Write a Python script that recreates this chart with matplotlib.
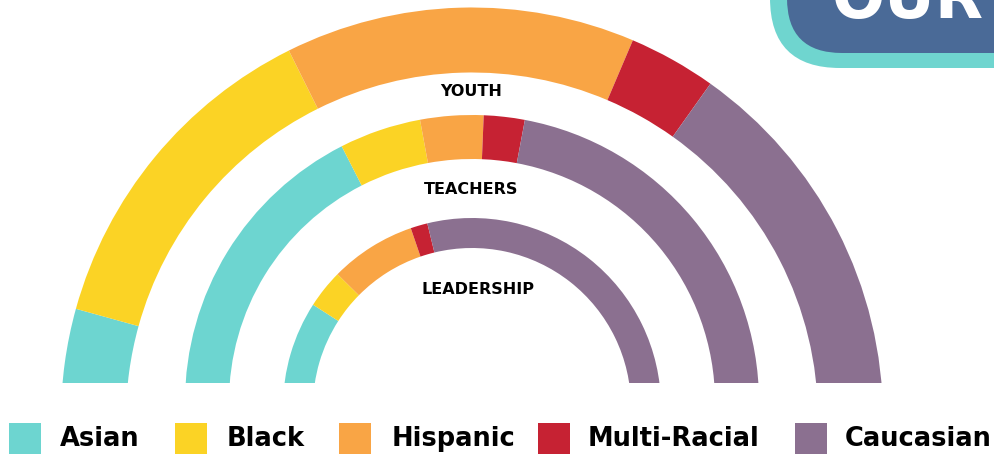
import matplotlib
matplotlib.use("Agg")
import matplotlib.pyplot as plt
from matplotlib.patches import Wedge, Rectangle, FancyBboxPatch

# ---- data ----
categories = ["Asian", "Black", "Hispanic", "Multi-Racial", "Caucasian"]
colors = ["#6DD5D0", "#FBD325", "#F9A545", "#C62233", "#8B7090"]
youth = [8.6, 26.7, 27.5, 6.9, 30.3]
teachers = [35.0, 9.2, 7.1, 4.6, 44.1]
leadership = [18.2, 6.6, 14.7, 2.9, 57.6]
ring_labels = ["YOUTH", "TEACHERS", "LEADERSHIP"]

W, H = 995, 454
fig = plt.figure(figsize=(W / 100, H / 100), dpi=100)
ax = fig.add_axes([0, 0, 1, 1])
ax.set_xlim(0, W)
ax.set_ylim(0, H)
ax.axis("off")

def py(y):  # pixel row -> data y
    return H - y

clip = Rectangle((0, py(383)), W, H, transform=ax.transData)

rings = [
    (youth, (472, py(418.5)), 411, 65),
    (teachers, (472, py(402)), 287, 44),
    (leadership, (472, py(407)), 189, 30),
]
for vals, center, R, width in rings:
    total = sum(vals)
    start = 180.0
    for v, c in zip(vals, colors):
        end = start - 180.0 * v / total
        w = Wedge(center, R, end, start, width=width, facecolor=c,
                  edgecolor="none", antialiased=True)
        ax.add_patch(w)
        w.set_clip_path(clip)
        start = end

label_pos = [(471.5, 92), (471.5, 189.5), (478, 289)]
for lab, (x, y) in zip(ring_labels, label_pos):
    ax.text(x, py(y), lab, ha="center", va="center", fontsize=11.5,
            fontweight="bold", family="DejaVu Sans", color="black")

# legend
sq_x = [9, 175, 339, 538, 795]
tx_x = [60, 227, 392, 588, 845]
for c, name, sx, tx in zip(colors, categories, sq_x, tx_x):
    ax.add_patch(Rectangle((sx, py(454)), 32, 31, facecolor=c, edgecolor="none"))
    ax.text(tx, py(446.5), name, ha="left", va="baseline", fontsize=18.5,
            fontweight="bold", family="DejaVu Sans", color="black")

# top-right badge (partly outside the picture)
ax.add_patch(FancyBboxPatch((770 + 70, py(68) + 70), 400, 200,
                            boxstyle="round,pad=70", facecolor="#6FD5CF",
                            edgecolor="none"))
ax.add_patch(FancyBboxPatch((787 + 55, py(53) + 55), 400, 200,
                            boxstyle="round,pad=55", facecolor="#4A6A97",
                            edgecolor="none"))
ax.text(832, py(18), "OUR", ha="left", va="baseline", fontsize=45,
        fontweight="bold", family="DejaVu Sans", color="white")

fig.savefig("out.png", dpi=100)
